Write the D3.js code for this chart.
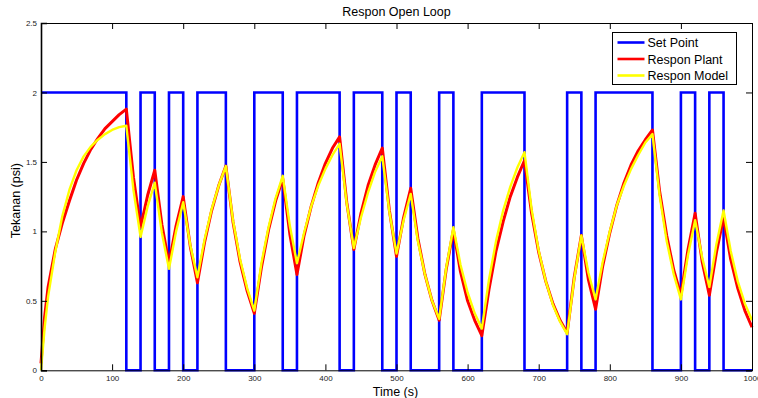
<!DOCTYPE html>
<html>
<head>
<meta charset="utf-8">
<script src="https://cdn.jsdelivr.net/npm/d3@7"></script>
<style>
  html, body { margin: 0; padding: 0; background: #fff; }
  svg { display: block; font-family: "Liberation Sans", Arial, sans-serif; }
</style>
</head>
<body>
<svg id="chart" width="758" height="398"></svg>
<script>
// ---- data ----
const title = "Respon Open Loop";
const xLabel = "Time (s)";
const yLabel = "Tekanan (psi)";
const xTicks = [0, 100, 200, 300, 400, 500, 600, 700, 800, 900, 1000];
const yTicks = [0, 0.5, 1, 1.5, 2, 2.5];
const seriesNames = ["Set Point", "Respon Plant", "Respon Model"];

// set point switching times (s) and level held from that time
const spTimes  = [0, 120, 140, 160, 180, 200, 220, 260, 300, 340, 360, 420, 440, 480, 500, 520, 560, 580, 620, 680, 740, 760, 780, 860, 900, 920, 940, 960, 1000];
const spLevels = [2, 0,   2,   0,   2,   0,   2,   0,   2,   0,   2,   0,   2,   0,   2,   0,   2,   0,   2,   0,   2,   0,   2,   0,   2,   0,   2,   0,   0];

// response samples: t = 0, 5, then every 10 s up to 1000
const respTimes = [0, 5].concat(d3.range(10, 1001, 10));
const plant = [
  0.05, 0.38, 0.60, 0.87, 1.06, 1.22, 1.37, 1.49, 1.59, 1.67, 1.74, 1.79, 1.84, 1.88,
  1.39, 1.03, 1.26, 1.44, 1.05, 0.77, 1.04, 1.25, 0.89, 0.63, 0.92, 1.15, 1.33,
  1.47, 1.07, 0.78, 0.57, 0.41, 0.74, 1.01, 1.22, 1.38, 0.98, 0.69, 0.97, 1.18,
  1.35, 1.49, 1.60, 1.68, 1.21, 0.87, 1.13, 1.33, 1.48, 1.60, 1.15, 0.82, 1.10,
  1.31, 0.95, 0.69, 0.50, 0.36, 0.73, 1.01, 0.71, 0.50, 0.36, 0.25, 0.58, 0.86,
  1.07, 1.25, 1.39, 1.51, 1.13, 0.85, 0.64, 0.48, 0.36, 0.27, 0.67, 0.97, 0.65,
  0.44, 0.75, 0.99, 1.19, 1.35, 1.48, 1.58, 1.66, 1.73, 1.29, 0.97, 0.72, 0.54,
  0.87, 1.13, 0.78, 0.54, 0.85, 1.10, 0.80, 0.59, 0.43, 0.31
];
const model = [
  0.00, 0.30, 0.53, 0.85, 1.11, 1.30, 1.44, 1.54, 1.61, 1.66, 1.70, 1.73, 1.75, 1.76,
  1.30, 0.96, 1.18, 1.35, 0.99, 0.73, 1.00, 1.21, 0.90, 0.67, 0.94, 1.16, 1.33,
  1.47, 1.08, 0.80, 0.59, 0.43, 0.77, 1.03, 1.24, 1.40, 1.04, 0.77, 0.99, 1.18,
  1.33, 1.45, 1.55, 1.63, 1.20, 0.88, 1.10, 1.28, 1.43, 1.54, 1.14, 0.84, 1.08,
  1.27, 0.93, 0.69, 0.50, 0.37, 0.74, 1.03, 0.76, 0.56, 0.41, 0.30, 0.65, 0.93,
  1.15, 1.32, 1.46, 1.57, 1.16, 0.86, 0.64, 0.47, 0.35, 0.26, 0.66, 0.97, 0.70,
  0.51, 0.78, 1.00, 1.19, 1.33, 1.45, 1.55, 1.64, 1.70, 1.26, 0.93, 0.69, 0.51,
  0.83, 1.08, 0.81, 0.60, 0.91, 1.15, 0.86, 0.64, 0.48, 0.36
];

// ---- layout ----
const svg = d3.select("#chart");
const m = { left: 41, right: 6, top: 23, bottom: 27.7 };
const W = 758, H = 398;
const x = d3.scaleLinear().domain([0, 1000]).range([m.left, W - m.right]);
const y = d3.scaleLinear().domain([0, 2.5]).range([H - m.bottom, m.top]);

// ---- lines ----
const spPoints = [];
spTimes.forEach((t, i) => {
  if (i > 0) spPoints.push([t, spLevels[i - 1]]);
  spPoints.push([t, spLevels[i]]);
});

const line = d3.line().x(d => x(d[0])).y(d => y(d[1]));
const g = svg.append("g");

g.append("path").datum(spPoints)
  .attr("d", line).attr("fill", "none")
  .attr("stroke", "#0000ff").attr("stroke-width", 2.6)
  .attr("stroke-linejoin", "miter");

g.append("path").datum(respTimes.map((t, i) => [t, plant[i]]))
  .attr("d", line).attr("fill", "none")
  .attr("stroke", "#ff0000").attr("stroke-width", 3)
  .attr("stroke-linejoin", "round");

g.append("path").datum(respTimes.map((t, i) => [t, model[i]]))
  .attr("d", line).attr("fill", "none")
  .attr("stroke", "#ffff00").attr("stroke-width", 2.4)
  .attr("stroke-linejoin", "round");

// ---- axes (MATLAB style: ticks inside, box) ----
const tickLen = 6;
const axB = d3.axisBottom(x).tickValues(xTicks).tickSize(-tickLen).tickPadding(5).tickFormat(d3.format("d"));
const axT = d3.axisTop(x).tickValues(xTicks).tickSize(-tickLen).tickFormat("");
const axL = d3.axisLeft(y).tickValues(yTicks).tickSize(-tickLen).tickPadding(4).tickFormat(d => d3.format("")(d));
const axR = d3.axisRight(y).tickValues(yTicks).tickSize(-tickLen).tickFormat("");

function styleAxis(sel) {
  sel.select(".domain").attr("stroke", "#000").attr("stroke-width", 1);
  sel.selectAll(".tick line").attr("stroke", "#000").attr("stroke-width", 1);
  sel.selectAll(".tick text").attr("fill", "#222").style("font-size", "8px")
     .style("font-family", "'Liberation Sans', Arial, sans-serif");
}

svg.append("g").attr("transform", `translate(0,${y(0)})`).call(axB).call(styleAxis);
svg.append("g").attr("transform", `translate(0,${y(2.5)})`).call(axT).call(styleAxis);
svg.append("g").attr("transform", `translate(${x(0)},0)`).call(axL).call(styleAxis)
  .select(".domain").attr("stroke-width", 1.6);
svg.append("g").attr("transform", `translate(${x(1000)},0)`).call(axR).call(styleAxis);

// ---- texts ----
svg.append("text").attr("x", (x(0) + x(1000)) / 2).attr("y", 15.5)
  .attr("text-anchor", "middle").style("font-size", "12.5px").attr("fill", "#000").text(title);
svg.append("text").attr("x", (x(0) + x(1000)) / 2 - 1).attr("y", 396)
  .attr("text-anchor", "middle").style("font-size", "12.5px").attr("fill", "#000").text(xLabel);
svg.append("text").attr("transform", `translate(20,${(y(0) + y(2.5)) / 2 + 4}) rotate(-90)`)
  .attr("text-anchor", "middle").style("font-size", "12.5px").attr("fill", "#000").text(yLabel);

// ---- legend ----
const colors = ["#0000ff", "#ff0000", "#ffff00"];
const lg = svg.append("g").attr("transform", "translate(612.5,32.5)");
lg.append("rect").attr("width", 124).attr("height", 52)
  .attr("fill", "#fff").attr("stroke", "#000").attr("stroke-width", 1);
seriesNames.forEach((name, i) => {
  const yy = 10 + i * 16.5;
  lg.append("line").attr("x1", 5).attr("x2", 32).attr("y1", yy).attr("y2", yy)
    .attr("stroke", colors[i]).attr("stroke-width", 2.6);
  lg.append("text").attr("x", 35).attr("y", yy + 4.5)
    .style("font-size", "12.5px").attr("fill", "#000").text(name);
});
</script>
</body>
</html>
